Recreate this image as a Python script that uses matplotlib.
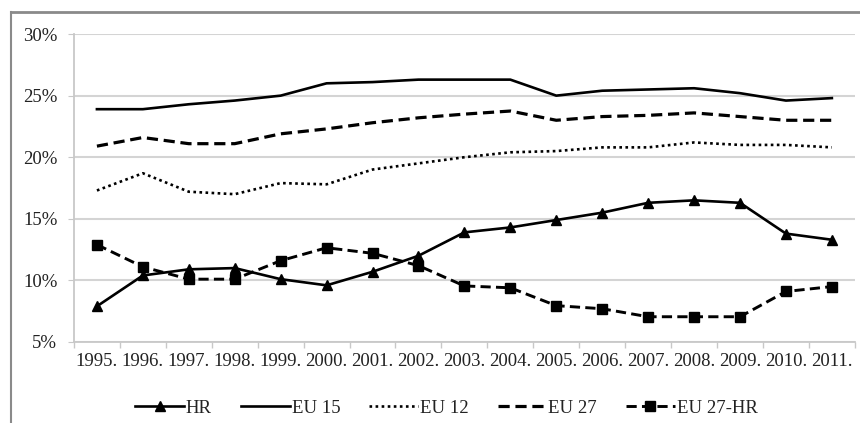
import matplotlib.pyplot as plt
from matplotlib.lines import Line2D
from matplotlib.ticker import FixedLocator, FuncFormatter

plt.rcParams['font.family'] = ['Liberation Serif', 'DejaVu Serif']
plt.rcParams['text.color'] = '#222222'
plt.rcParams['xtick.labelcolor'] = '#222222'
plt.rcParams['ytick.labelcolor'] = '#222222'

years = [str(y) + '.' for y in range(1995, 2012)]

hr = [7.9, 10.4, 10.9, 11.0, 10.1, 9.6, 10.7, 12.0, 13.9, 14.3, 14.9, 15.5,
      16.3, 16.5, 16.3, 13.8, 13.3]
eu15 = [23.9, 23.9, 24.3, 24.6, 25.0, 26.0, 26.1, 26.3, 26.3, 26.3, 25.0, 25.4,
        25.5, 25.6, 25.2, 24.6, 24.8]
eu12 = [17.3, 18.7, 17.2, 17.0, 17.9, 17.8, 19.0, 19.5, 20.0, 20.4, 20.5, 20.8,
        20.8, 21.2, 21.0, 21.0, 20.8]
eu27 = [20.9, 21.6, 21.1, 21.1, 21.9, 22.3, 22.8, 23.2, 23.5, 23.75, 23.0, 23.3,
        23.4, 23.6, 23.3, 23.0, 23.0]
eu27_hr = [12.9, 11.1, 10.1, 10.1, 11.6, 12.65, 12.2, 11.2, 9.55, 9.4, 7.95, 7.7,
           7.05, 7.05, 7.05, 9.1, 9.5]

fig = plt.figure(figsize=(8.6, 4.23), dpi=100)
ax = fig.add_axes([0.086, 0.1915, 0.908, 0.728])

x = range(len(years))
ax.plot(x, hr, color='black', lw=1.9, marker='^', ms=7.5, label='HR')
ax.plot(x, eu15, color='black', lw=1.9, label='EU 15')
ax.plot(x, eu12, color='black', lw=1.9, ls=(0, (1, 1.3)), label='EU 12')
ax.plot(x, eu27, color='black', lw=2.3, ls=(0, (3.5, 1.8)), label='EU 27')
ax.plot(x, eu27_hr, color='black', lw=2.1, ls=(0, (3.5, 1.8)), marker='s', ms=7.5,
        label='EU 27-HR')

ax.set_xlim(-0.5, len(years) - 0.5)
ax.set_ylim(5, 30)
ax.set_yticks([5, 10, 15, 20, 25, 30])
ax.yaxis.set_major_formatter(FuncFormatter(lambda v, p: '%d%%' % v))
ax.set_xticks(list(x))
ax.set_xticklabels(years)
ax.xaxis.set_minor_locator(FixedLocator([i - 0.5 for i in range(len(years) + 1)]))

ax.grid(axis='y', color='#d4d4d4', lw=1.5)
ax.set_axisbelow(True)
for side in ['top', 'right']:
    ax.spines[side].set_visible(False)
for side in ['left', 'bottom']:
    ax.spines[side].set_color('#c8c8c8')
    ax.spines[side].set_linewidth(1.3)

ax.tick_params(axis='x', which='major', length=0, pad=8, labelsize=13.5)
ax.tick_params(axis='x', which='minor', length=4, color='#c8c8c8', width=1)
ax.tick_params(axis='y', length=4, color='#c8c8c8', pad=8, labelsize=13.5)

ax.legend(loc='center', bbox_to_anchor=(0.519, 0.035), bbox_transform=fig.transFigure,
          ncol=5, frameon=False, fontsize=13.5, handlelength=2.6, columnspacing=1.55,
          handletextpad=0.1, borderpad=0)

# grey outer frame (top and left edges)
fig.add_artist(Line2D([11 / 860, 1], [1 - 12 / 423, 1 - 12 / 423],
                      transform=fig.transFigure, color='#8a8a8a', lw=2))
fig.add_artist(Line2D([11 / 860, 11 / 860], [0, 1 - 12 / 423],
                      transform=fig.transFigure, color='#8a8a8a', lw=1.5))

fig.savefig('out.png', dpi=100)
